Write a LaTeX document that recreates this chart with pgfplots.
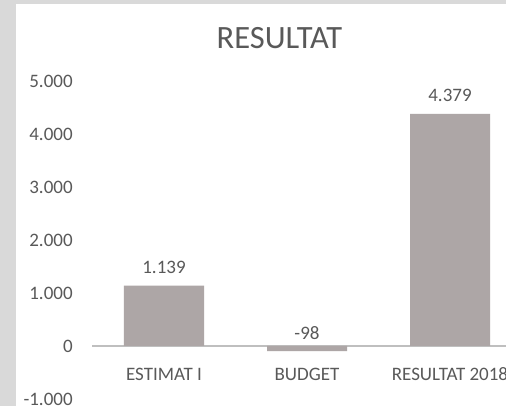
\documentclass[border=0pt]{standalone}
\usepackage{fontspec}
\setmainfont{Carlito}
\usepackage{pgfplots}
\pgfplotsset{compat=1.18}
\definecolor{frame}{HTML}{D9D9D9}
\definecolor{txt}{HTML}{595959}
\definecolor{barfill}{HTML}{ADA6A6}
\definecolor{zeroline}{HTML}{BFBFBF}

\begin{document}
\begin{tikzpicture}[x=1pt,y=1pt]
\useasboundingbox (0,0) rectangle (506,406);
\fill[frame] (0,0) rectangle (506,406);
\fill[white] (16,0) rectangle (506,402);
\clip (0,0) rectangle (506,406);
\node[text=txt,font=\fontsize{32.5}{38}\selectfont,inner sep=0pt] at (279.5,368) {RESULTAT};
\begin{axis}[
  at={(92.5pt,7pt)},anchor=south west,
  scale only axis,width=429pt,height=318pt,
  xmin=-0.5,xmax=2.5,ymin=-1000,ymax=5000,
  axis x line=middle,axis y line=left,
  x axis line style={-,draw=zeroline,line width=1.6pt},
  y axis line style={draw=none},
  tick style={draw=none},
  xtick={0,1,2},xticklabels={ESTIMAT I,BUDGET,RESULTAT 2018},
  ytick={-1000,0,1000,2000,3000,4000,5000},
  yticklabels={-1.000,0,1.000,2.000,3.000,4.000,5.000},
  ticklabel style={text=txt,font=\fontsize{19}{22}\selectfont},
  xticklabel style={anchor=center,inner sep=0pt,yshift=-24pt},
  yticklabel style={anchor=east,inner sep=0pt,xshift=-17.5pt},
  clip=false,
  ybar,bar width=80pt,
  nodes near coords,point meta=explicit symbolic,
  nodes near coords align={anchor=center},
  every node near coord/.append style={text=txt,font=\fontsize{19}{22}\selectfont,inner sep=0pt,yshift=18pt},
]
\addplot[fill=barfill,draw=none] coordinates {(0,1139) [1.139] (1,-98) [-98] (2,4379) [4.379]};
\end{axis}
\end{tikzpicture}
\end{document}
